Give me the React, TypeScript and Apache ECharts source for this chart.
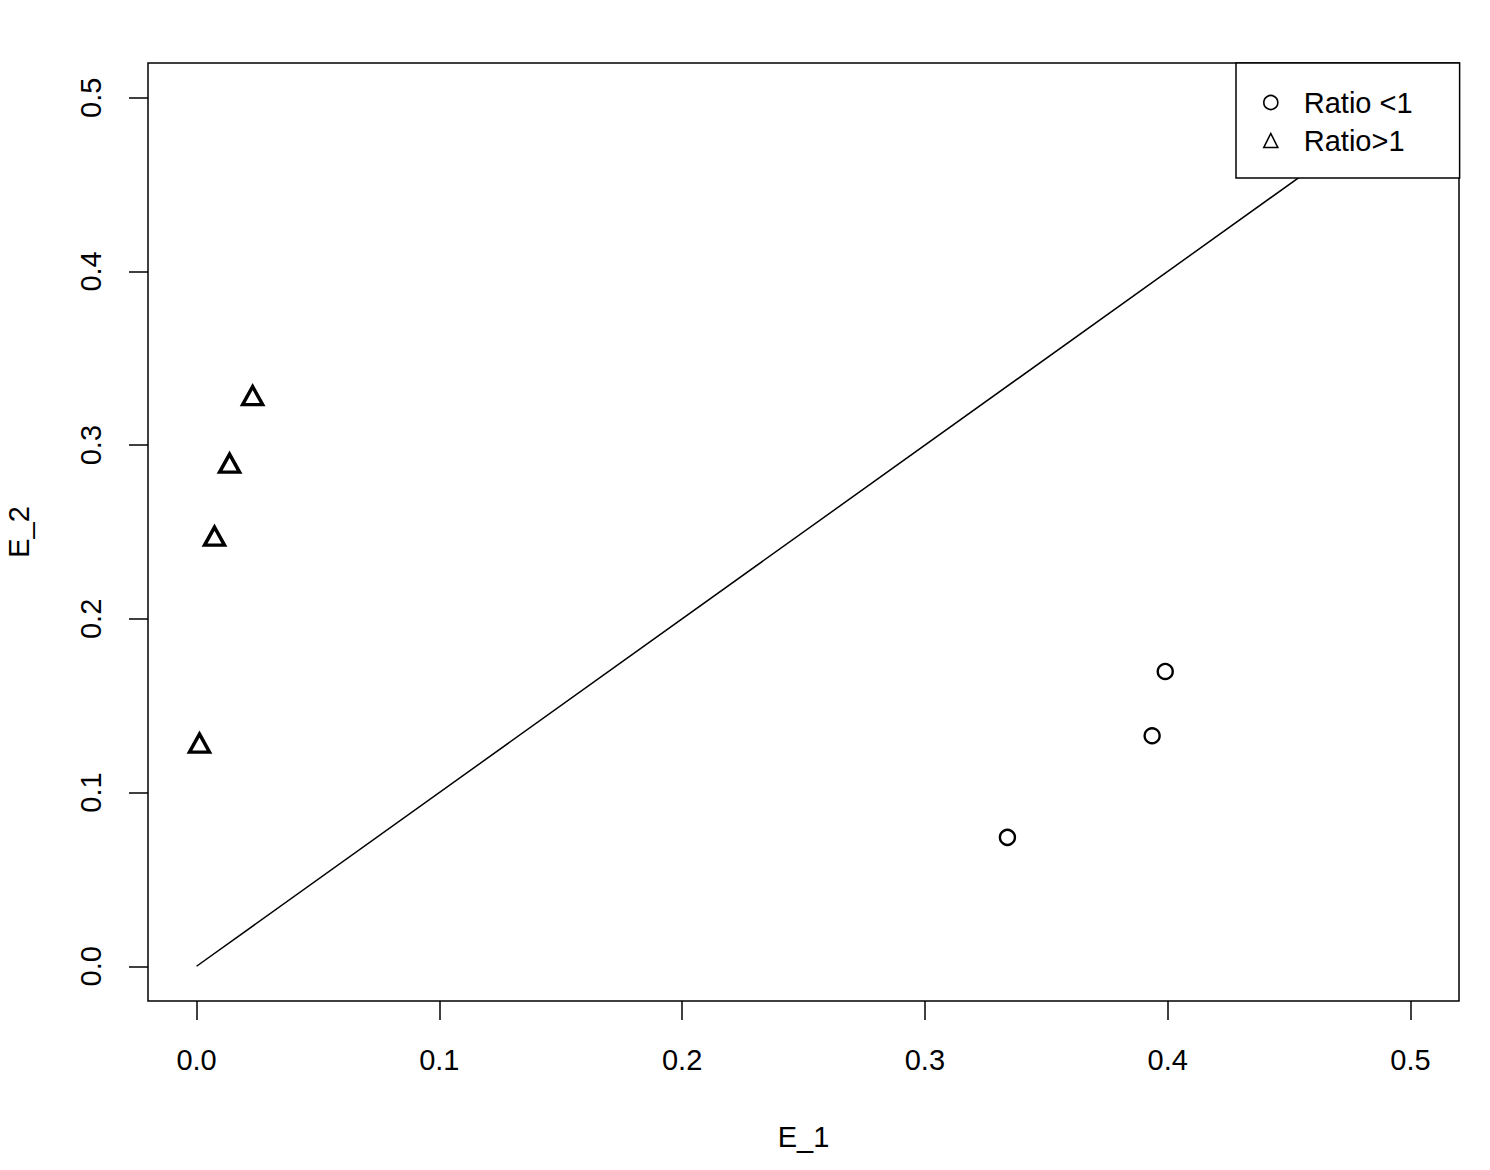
import React, { useEffect, useRef } from "react";
import * as echarts from "echarts";

const TICKS = [0, 0.1, 0.2, 0.3, 0.4, 0.5];
const AXIS_MIN = -0.02;
const AXIS_MAX = 0.52;

const LOW_NAME = "Ratio <1";
const LOW_X = [0.334, 0.3936, 0.399];
const LOW_Y = [0.0742, 0.1327, 0.1697];

const HIGH_NAME = "Ratio>1";
const HIGH_X = [0.0012, 0.0074, 0.0136, 0.0231];
const HIGH_Y = [0.1285, 0.2476, 0.2896, 0.3285];

const DIAG_X = [0, 0.5];
const DIAG_Y = [0, 0.5];

const FONT = "Liberation Sans, Arial, Helvetica, sans-serif";

export default function App() {
  const ref = useRef<HTMLDivElement>(null);
  useEffect(() => {
    if (!ref.current) return;
    const chart = echarts.init(ref.current, undefined, { renderer: "svg" });
    const zip = (xs: number[], ys: number[]) => xs.map((x, i) => [x, ys[i]]);
    const fmt = (v: number) => Number(v).toFixed(1);
    const axisCommon = {
      type: "value" as const,
      min: AXIS_MIN,
      max: AXIS_MAX,
      axisLine: { show: false, onZero: false },
      splitLine: { show: false },
      axisTick: {
        show: true,
        inside: false,
        length: 19,
        customValues: TICKS,
        lineStyle: { color: "#000", width: 1.5 },
      },
      nameLocation: "middle" as const,
      nameTextStyle: { fontSize: 29, color: "#000", fontFamily: FONT },
    };
    chart.setOption({
      animation: false,
      backgroundColor: "#fff",
      textStyle: { fontFamily: FONT },
      grid: {
        left: 148,
        top: 63,
        right: 31,
        bottom: 169,
        containLabel: false,
        outerBoundsMode: "none",
        show: true,
        borderColor: "#000",
        borderWidth: 1.5,
        backgroundColor: "transparent",
      },
      xAxis: {
        ...axisCommon,
        name: "E_1",
        nameGap: 121,
        axisLabel: {
          customValues: TICKS,
          formatter: fmt,
          fontSize: 29,
          color: "#000",
          margin: 44,
          fontFamily: FONT,
        },
      },
      yAxis: {
        ...axisCommon,
        name: "E_2",
        nameGap: 115,
        axisLabel: {
          customValues: TICKS,
          formatter: fmt,
          fontSize: 29,
          color: "#000",
          margin: 43,
          rotate: 90,
          fontFamily: FONT,
        },
      },
      legend: {
        left: 1236,
        top: 63,
        orient: "vertical",
        backgroundColor: "#fff",
        borderColor: "#000",
        borderWidth: 1.5,
        borderRadius: 0,
        padding: [25, 47, 23, 27],
        itemWidth: 14,
        itemHeight: 14,
        itemGap: 9,
        textStyle: {
          fontSize: 29,
          color: "#000",
          fontFamily: FONT,
          lineHeight: 29,
          padding: [0, 0, 0, 21],
        },
        data: [
          { name: LOW_NAME, itemStyle: { borderWidth: 1.6, opacity: 1 } },
          { name: HIGH_NAME, itemStyle: { borderWidth: 1.6, opacity: 1 } },
        ],
      },
      series: [
        {
          type: "line",
          name: "diag",
          data: zip(DIAG_X, DIAG_Y),
          symbol: "none",
          lineStyle: { color: "#000", width: 1.5 },
          z: 1,
        },
        {
          type: "scatter",
          name: LOW_NAME,
          data: zip(LOW_X, LOW_Y),
          symbol: "circle",
          symbolSize: 15,
          itemStyle: {
            color: "rgba(255,255,255,0)",
            borderColor: "#000",
            borderWidth: 2.4,
            opacity: 1,
          },
          z: 3,
        },
        {
          type: "scatter",
          name: HIGH_NAME,
          data: zip(HIGH_X, HIGH_Y),
          symbol: "triangle",
          symbolSize: [20, 18],
          itemStyle: {
            color: "rgba(255,255,255,0)",
            borderColor: "#000",
            borderWidth: 3.4,
            opacity: 1,
          },
          z: 3,
        },
      ],
    });
    return () => chart.dispose();
  }, []);
  return (
    <div
      ref={ref}
      style={{ position: "absolute", left: 0, top: 0, width: 1490, height: 1170 }}
    />
  );
}
